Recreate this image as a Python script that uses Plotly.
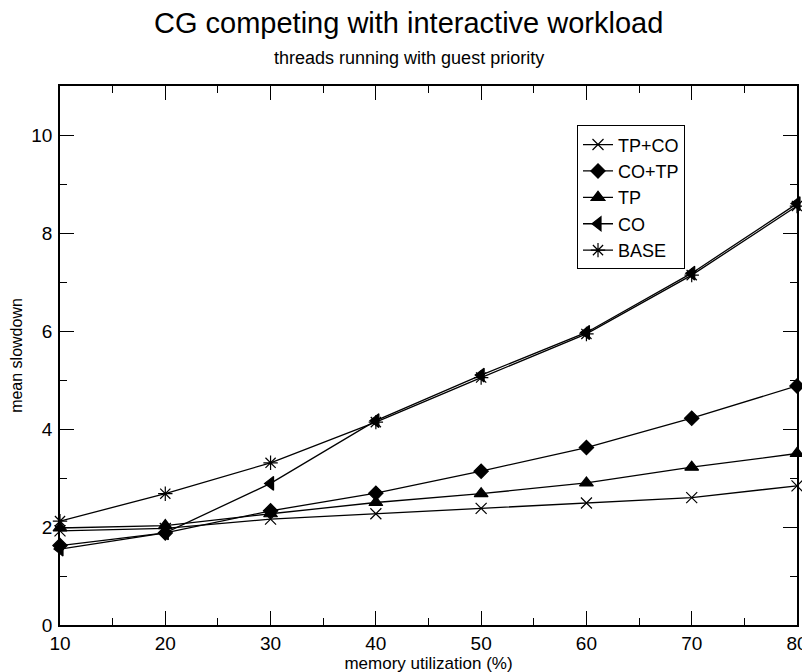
import plotly.graph_objects as go

x_vals = [10, 20, 30, 40, 50, 60, 70, 80]
tp_co = [1.92, 1.97, 2.16, 2.27, 2.38, 2.49, 2.60, 2.84]
co_tp = [1.62, 1.88, 2.33, 2.69, 3.14, 3.62, 4.22, 4.88]
tp = [1.98, 2.03, 2.27, 2.50, 2.68, 2.90, 3.22, 3.50]
co = [1.55, 1.88, 2.89, 4.17, 5.10, 5.97, 7.18, 8.60]
base = [2.12, 2.68, 3.31, 4.14, 5.05, 5.94, 7.14, 8.55]

series = [
    ("TP+CO", tp_co, "x-thin-open", 11),
    ("CO+TP", co_tp, "diamond", 11),
    ("TP", tp, "triangle-up", 12),
    ("CO", co, "triangle-left", 12),
    ("BASE", base, "asterisk-open", 12),
]

FONT = "Liberation Sans, Arial, sans-serif"

fig = go.Figure()
for name, vals, sym, size in series:
    fig.add_trace(go.Scatter(
        x=x_vals, y=vals, name=name, mode="lines+markers", cliponaxis=False,
        line=dict(color="black", width=1.3),
        marker=dict(symbol=sym, size=size, color="black",
                    line=dict(color="black", width=1.2)),
    ))

axis_common = dict(
    showline=True, linecolor="black", linewidth=1.6, mirror="allticks",
    ticks="inside", ticklen=14, tickwidth=1, tickcolor="black",
    showgrid=False, zeroline=False, automargin=False,
    tickfont=dict(family=FONT, size=19, color="black"),
)

fig.update_layout(
    width=810, height=672,
    paper_bgcolor="white", plot_bgcolor="white",
    margin=dict(l=52, r=21, t=78, b=55),
    font=dict(family=FONT, color="black"),
    xaxis=dict(
        range=[10, 80], tick0=10, dtick=10,
        minor=dict(dtick=5, ticks="inside", ticklen=7, tickcolor="black", tickwidth=1),
        title=dict(text="memory utilization (%)", font=dict(family=FONT, size=17), standoff=0),
        **axis_common,
    ),
    yaxis=dict(
        range=[0, 11], tick0=0, dtick=2,
        minor=dict(dtick=1, ticks="inside", ticklen=7, tickcolor="black", tickwidth=1),
        title=dict(text="mean slowdown", font=dict(family=FONT, size=16), standoff=6),
        ticklabelstandoff=2,
        **axis_common,
    ),
    legend=dict(
        x=0.7015, y=0.927, xanchor="left", yanchor="top",
        bgcolor="white", bordercolor="black", borderwidth=1,
        font=dict(family=FONT, size=18, color="black"),
        tracegroupgap=0, itemsizing="trace", entrywidth=95, entrywidthmode="pixels",
    ),
    showlegend=True,
    annotations=[
        dict(text="CG competing with interactive workload", xref="paper", yref="paper",
             x=0.4735, y=1.117, xanchor="center", yanchor="middle", showarrow=False,
             font=dict(family=FONT, size=29, color="black")),
        dict(text="threads running with guest priority", xref="paper", yref="paper",
             x=0.4735, y=1.052, xanchor="center", yanchor="middle", showarrow=False,
             font=dict(family=FONT, size=18, color="black")),
    ],
)

fig.write_html("out.html")
